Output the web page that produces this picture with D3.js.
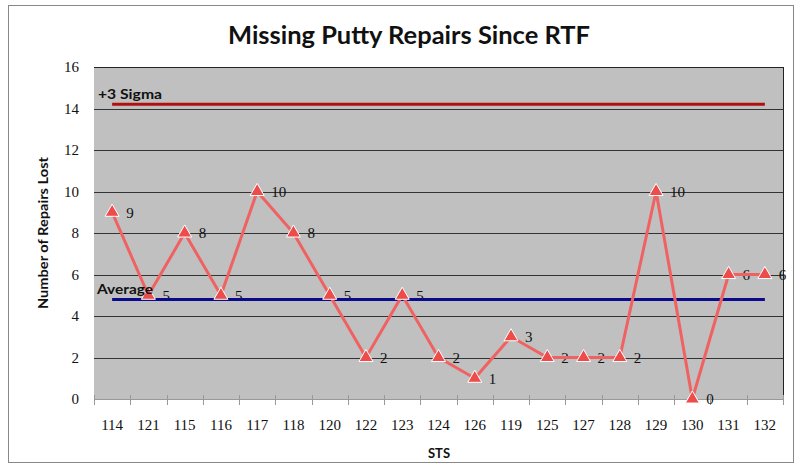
<!DOCTYPE html>
<html><head><meta charset="utf-8">
<script src="https://cdn.jsdelivr.net/npm/d3@7"></script>
<style>body{margin:0;background:#fff;}svg{display:block;}</style>
</head><body>
<script>
const categories = ["114","121","115","116","117","118","120","122","123","124","126","119","125","127","128","129","130","131","132"];
const repairs = [9,5,8,5,10,8,5,2,5,2,1,3,2,2,2,10,0,6,6];
const averageValue = 4.79;
const sigmaValue = 14.2;
const yTicks = [0,2,4,6,8,10,12,14,16];
const titleText = "Missing Putty Repairs Since RTF";
const yTitle = "Number of Repairs Lost";
const xTitle = "STS";

const W = 798, H = 466;
const svg = d3.select("body").append("svg").attr("width", W).attr("height", H);
svg.append("rect").attr("x",8.5).attr("y",5.5).attr("width",785).attr("height",457)
  .attr("fill","#fff").attr("stroke","#888").attr("stroke-width",1);

const x = d3.scaleBand().domain(categories).range([94,783]);
const y = d3.scaleLinear().domain([0,16]).range([399,67]);
const cx = d => x(d) + x.bandwidth()/2;

svg.append("rect").attr("x",94).attr("y",67).attr("width",689).attr("height",332).attr("fill","#C0C0C0");

svg.append("g").selectAll("line").data(yTicks.filter(t=>t>0)).join("line")
  .attr("x1",94).attr("x2",783).attr("y1",d=>Math.round(y(d))+0.5).attr("y2",d=>Math.round(y(d))+0.5)
  .attr("stroke",d=>d===16?"#222":"#333").attr("stroke-width",1);
svg.append("line").attr("x1",783.5).attr("x2",783.5).attr("y1",67).attr("y2",399).attr("stroke","#222");
svg.append("line").attr("x1",94).attr("x2",783).attr("y1",399.5).attr("y2",399.5).attr("stroke","#999");
const tickPos = categories.map(c=>x(c)).concat([783]);
svg.append("g").selectAll("line").data(tickPos).join("line")
  .attr("x1",d=>Math.round(d)+0.5).attr("x2",d=>Math.round(d)+0.5).attr("y1",395).attr("y2",405)
  .attr("stroke","#999");

svg.append("g").selectAll("text").data(yTicks).join("text")
  .attr("x",79).attr("y",d=>y(d)).attr("dy","0.35em").attr("text-anchor","end")
  .attr("font-family","Liberation Serif, serif").attr("font-size",15).attr("fill","#111")
  .text(d=>d);
svg.append("g").selectAll("text").data(categories).join("text")
  .attr("x",d=>cx(d)).attr("y",430).attr("text-anchor","middle")
  .attr("font-family","Liberation Serif, serif").attr("font-size",15).attr("fill","#111")
  .text(d=>d);

svg.append("text").attr("x",409).attr("y",44).attr("text-anchor","middle")
  .attr("font-family","Lato, sans-serif").attr("font-weight","bold").attr("font-size",25).attr("fill","#111")
  .attr("textLength",362).attr("lengthAdjust","spacingAndGlyphs")
  .text(titleText);
svg.append("text").attr("transform","translate(48,233) rotate(-90)").attr("text-anchor","middle")
  .attr("font-family","Lato, sans-serif").attr("font-weight","bold").attr("font-size",13).attr("fill","#111")
  .attr("textLength",152).attr("lengthAdjust","spacingAndGlyphs")
  .text(yTitle);
svg.append("text").attr("x",439).attr("y",458).attr("text-anchor","middle")
  .attr("font-family","Lato, sans-serif").attr("font-weight","bold").attr("font-size",13).attr("fill","#111")
  .attr("textLength",22).attr("lengthAdjust","spacingAndGlyphs")
  .text(xTitle);

svg.append("g").selectAll("text").data(categories).join("text")
  .attr("x",d=>cx(d)+14).attr("y",(d,i)=>y(repairs[i])).attr("dy","0.35em")
  .attr("font-family","Liberation Serif, serif").attr("font-size",15).attr("fill","#111")
  .text((d,i)=>repairs[i]);

const x0 = cx(categories[0]), x1 = cx(categories[categories.length-1]);
svg.append("line").attr("x1",x0).attr("x2",x1).attr("y1",y(sigmaValue)).attr("y2",y(sigmaValue))
  .attr("stroke","#B01010").attr("stroke-width",3);
svg.append("line").attr("x1",x0).attr("x2",x1).attr("y1",y(averageValue)).attr("y2",y(averageValue))
  .attr("stroke","#0A0A8A").attr("stroke-width",3);

const line = d3.line().x(d=>cx(d.c)).y(d=>y(d.v));
const pts = categories.map((c,i)=>({c, v:repairs[i]}));
svg.append("path").datum(pts).attr("d",line).attr("fill","none")
  .attr("stroke","#F06262").attr("stroke-width",3).attr("stroke-linejoin","round");
svg.append("g").selectAll("path").data(pts).join("path")
  .attr("d", d3.symbol().type(d3.symbolTriangle).size(85))
  .attr("transform",d=>`translate(${cx(d.c)},${y(d.v)})`)
  .attr("fill","#EE4B4B").attr("stroke","#fff").attr("stroke-width",1);

svg.append("text").attr("x",98).attr("y",99)
  .attr("font-family","Lato, sans-serif").attr("font-weight","bold").attr("font-size",13).attr("fill","#111")
  .attr("textLength",64).attr("lengthAdjust","spacingAndGlyphs")
  .text("+3 Sigma");
svg.append("text").attr("x",97).attr("y",294)
  .attr("font-family","Lato, sans-serif").attr("font-weight","bold").attr("font-size",13).attr("fill","#111")
  .attr("textLength",56).attr("lengthAdjust","spacingAndGlyphs")
  .text("Average");
</script>
</body></html>
